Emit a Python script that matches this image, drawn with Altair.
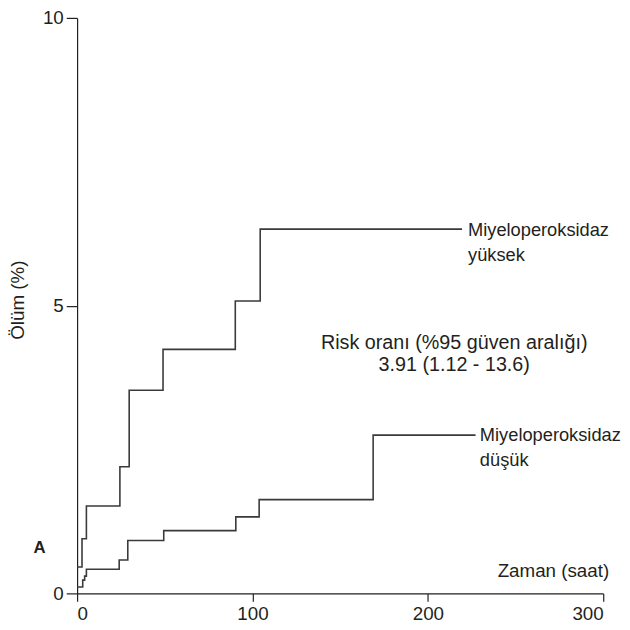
import altair as alt
import pandas as pd

# Step curves (time in hours, death %)
high_time = [0, 2.8, 5.3, 24.4, 29.7, 49.0, 90.2, 104.4, 219.5]
high_pct = [0.46, 0.95, 1.52, 2.20, 3.53, 4.24, 5.08, 6.33, 6.33]
low_time = [0, 3.2, 4.3, 5.3, 24.0, 28.9, 49.4, 90.5, 103.8, 168.8, 227.2]
low_pct = [0.11, 0.23, 0.30, 0.42, 0.58, 0.92, 1.09, 1.33, 1.63, 2.75, 2.75]
group_names = ["Miyeloperoksidaz yüksek", "Miyeloperoksidaz düşük"]
x_ticks = [0, 100, 200, 300]
y_ticks = [0, 5, 10]

df = pd.DataFrame({
    "t": high_time + low_time,
    "pct": high_pct + low_pct,
    "grup": [group_names[0]] * len(high_time) + [group_names[1]] * len(low_time),
})

FONT = "Liberation Sans"
INK = "#231f20"
FS = 19

x_enc = alt.X(
    "t:Q",
    scale=alt.Scale(domain=[0, 300], nice=False),
    axis=alt.Axis(values=x_ticks, title=None, grid=False, tickSize=8, labelPadding=3,
                  domainColor=INK, tickColor=INK, labelColor=INK, labelFont=FONT,
                  labelFontSize=FS, domainWidth=1.2, tickWidth=1.2, format="d"),
)
y_enc = alt.Y(
    "pct:Q",
    scale=alt.Scale(domain=[0, 10], nice=False),
    axis=alt.Axis(values=y_ticks, title=None, grid=False, tickSize=11, labelPadding=3,
                  domainColor=INK, tickColor=INK, labelColor=INK, labelFont=FONT,
                  labelFontSize=FS, domainWidth=1.2, tickWidth=1.2, format="d"),
)

lines = alt.Chart(df).mark_line(
    interpolate="step-after", color="#3a3a3a", strokeWidth=1.6
).encode(x=x_enc, y=y_enc, detail="grup:N")


def label(text, x, y, align="left", size=FS, **kw):
    return alt.Chart(pd.DataFrame({"txt": [text]})).mark_text(
        align=align, baseline="middle", font=FONT, fontSize=size, color=INK, **kw
    ).encode(text="txt:N", x=alt.value(x), y=alt.value(y))


labels = [
    label("Miyeloperoksidaz", 396, 215, size=18.5),
    label("yüksek", 396, 240, size=18.5),
    label("Miyeloperoksidaz", 408, 423, size=18.5),
    label("düşük", 408, 448, size=18.5),
    label("Risk oranı (%95 güven aralığı)", 382, 329, align="center", size=20),
    label("3.91 (1.12 - 13.6)", 382, 352, align="center", size=20),
    label("Zaman (saat)", 539, 560, align="right"),
    label("A", -38, 537, align="center", size=17, fontWeight="bold"),
    label("Ölüm (%)", -60, 286, align="center", angle=270),
]

chart = alt.layer(lines, *labels).properties(
    width=533,
    height=583,
    autosize=alt.AutoSizeParams(type="none"),
    padding={"left": 70, "top": 6, "right": 19, "bottom": 28},
).configure_view(stroke=None)

chart.save("out.html", embed_options={"renderer": "svg", "actions": False})
